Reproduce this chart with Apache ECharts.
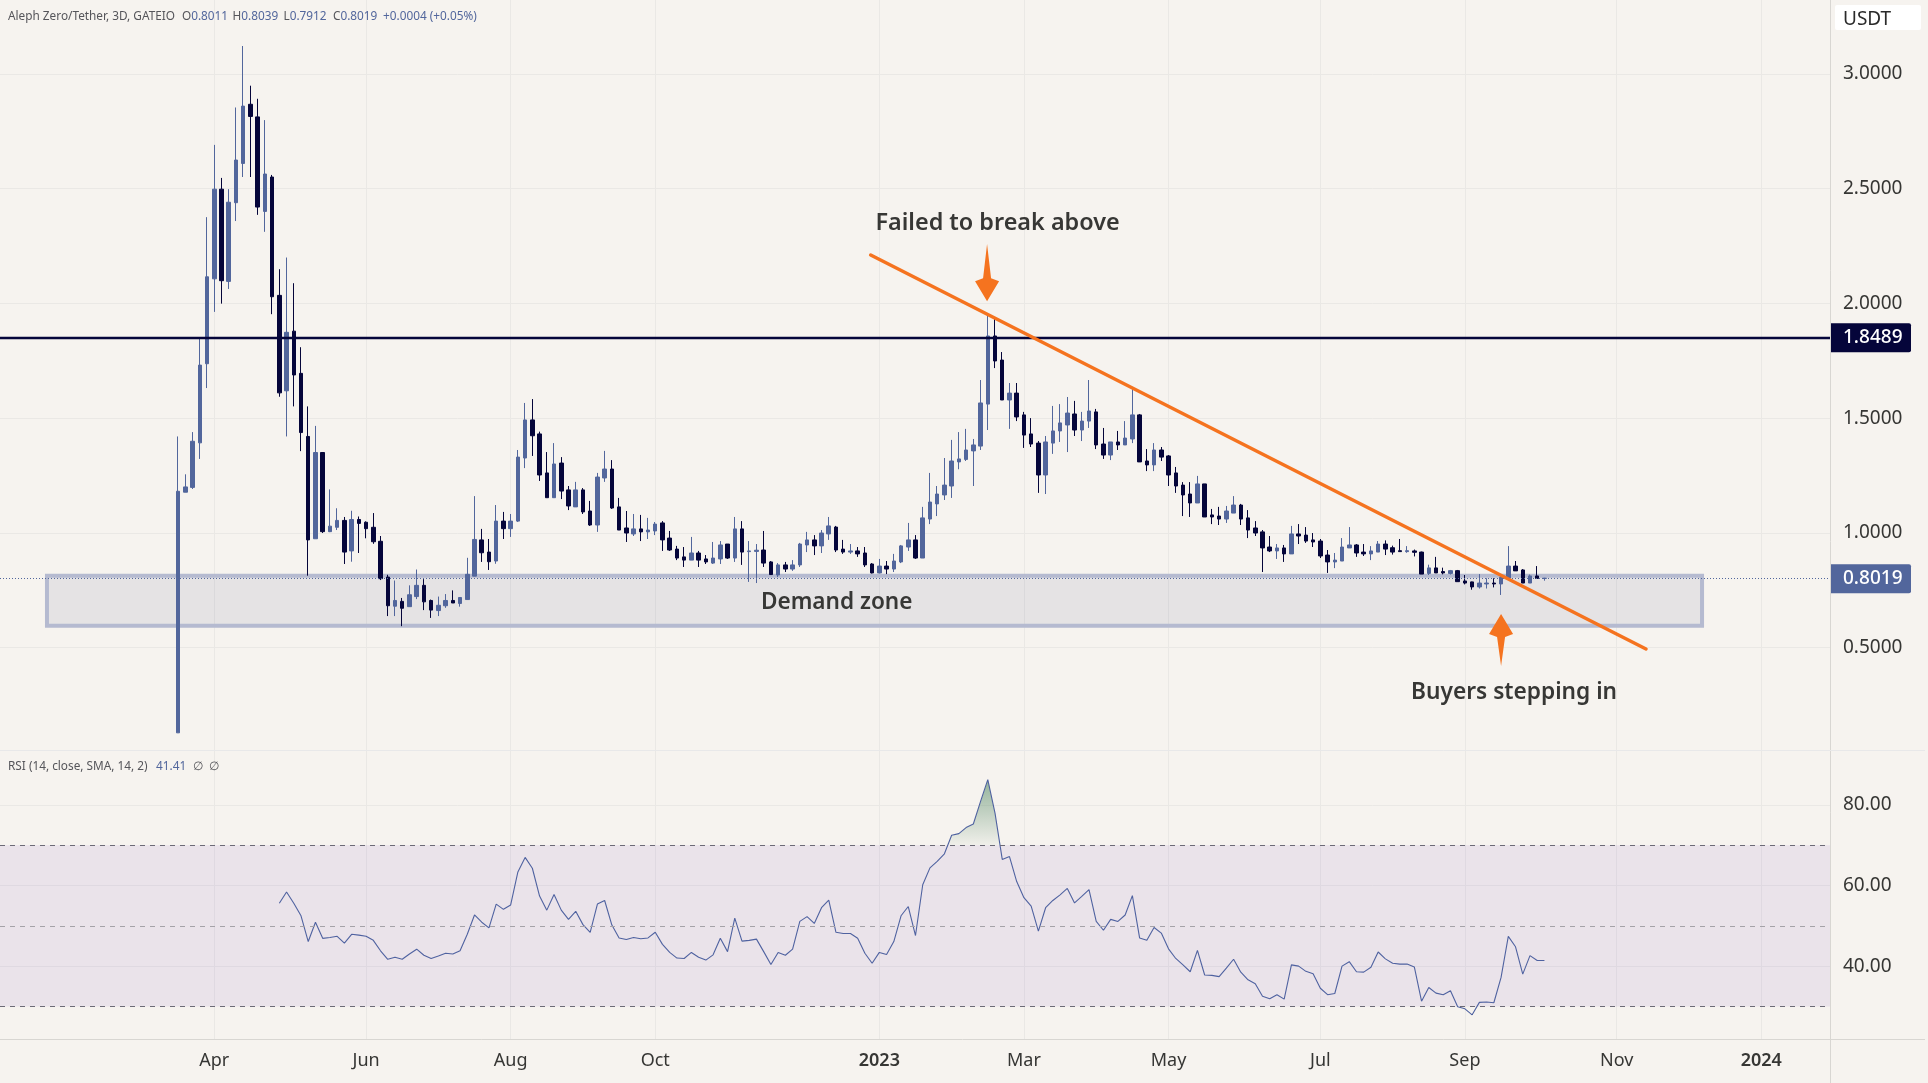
<!DOCTYPE html>
<html><head><meta charset="utf-8">
<style>html,body{margin:0;padding:0;background:#F6F3EF;overflow:hidden}#c{width:1928px;height:1083px}</style>
<script src="https://cdn.jsdelivr.net/npm/echarts@6/dist/echarts.min.js"></script>
</head><body><div id="c"></div>
<script>
const opens = [
0.128,1.177,1.198,1.392,1.737,2.107,2.498,2.096,2.439,2.610,
2.868,2.813,2.401,2.551,2.035,1.619,1.879,1.695,1.420,0.974,
1.350,1.005,1.024,1.054,0.921,1.058,1.046,1.024,0.963,0.807,
0.680,0.701,0.678,0.722,0.771,0.705,0.661,0.682,0.705,0.692,
0.709,0.811,0.969,0.916,0.877,1.051,1.018,1.051,1.326,1.492,
1.431,1.261,1.153,1.304,1.187,1.113,1.187,1.095,1.034,1.239,
1.278,1.113,1.021,0.995,1.017,1.004,1.008,1.043,0.977,0.929,
0.895,0.881,0.912,0.886,0.868,0.886,0.951,0.890,1.017,0.918,
0.919,0.925,0.873,0.816,0.860,0.842,0.860,0.947,0.969,0.943,
0.995,1.025,0.929,0.916,0.921,0.912,0.864,0.825,0.855,0.842,
0.873,0.938,0.969,0.890,1.060,1.126,1.165,1.204,1.309,1.320,
1.357,1.378,1.561,1.858,1.753,1.579,1.609,1.514,1.431,1.391,
1.252,1.391,1.444,1.470,1.518,1.448,1.487,1.527,1.387,1.339,
1.396,1.383,1.409,1.514,1.313,1.296,1.361,1.335,1.261,1.208,
1.169,1.130,1.213,1.078,1.073,1.060,1.086,1.121,1.065,1.021,
1.004,0.938,0.921,0.934,0.908,0.995,0.990,0.969,0.964,0.903,
0.873,0.877,0.934,0.947,0.916,0.908,0.916,0.951,0.935,0.922,
0.918,0.921,0.916,0.823,0.847,0.831,0.823,0.835,0.790,0.786,
0.764,0.777,0.781,0.777,0.803,0.855,0.838,0.781,0.812,0.8011];
const closes = [
1.181,1.200,1.399,1.731,2.116,2.498,2.099,2.441,2.625,2.860,
2.815,2.420,2.564,2.029,1.610,1.874,1.688,1.437,0.969,1.350,
1.005,1.029,1.054,0.916,1.058,1.041,1.018,0.961,0.800,0.682,
0.705,0.671,0.730,0.771,0.699,0.663,0.684,0.705,0.694,0.718,
0.819,0.971,0.913,0.874,1.051,1.018,1.051,1.330,1.492,1.423,
1.252,1.153,1.300,1.182,1.117,1.187,1.091,1.034,1.243,1.278,
1.108,1.012,0.999,1.017,1.004,1.012,1.038,0.969,0.925,0.890,
0.881,0.912,0.881,0.873,0.890,0.947,0.890,1.017,0.916,0.921,
0.924,0.868,0.818,0.860,0.842,0.860,0.951,0.969,0.943,0.999,
1.030,0.925,0.916,0.921,0.908,0.860,0.825,0.855,0.842,0.877,
0.943,0.969,0.890,1.065,1.134,1.169,1.208,1.313,1.322,1.361,
1.383,1.566,1.858,1.749,1.579,1.609,1.505,1.426,1.387,1.252,
1.396,1.444,1.479,1.522,1.448,1.487,1.531,1.383,1.339,1.396,
1.383,1.413,1.514,1.309,1.296,1.361,1.330,1.252,1.204,1.165,
1.130,1.213,1.069,1.069,1.060,1.095,1.121,1.060,1.012,0.999,
0.934,0.921,0.934,0.908,0.995,0.986,0.964,0.960,0.899,0.873,
0.881,0.938,0.947,0.912,0.908,0.921,0.951,0.929,0.916,0.918,
0.922,0.915,0.820,0.847,0.825,0.825,0.835,0.787,0.781,0.764,
0.781,0.781,0.777,0.806,0.855,0.834,0.781,0.812,0.801,0.8019];
const lows = [
0.128,1.177,1.191,1.322,1.631,1.963,1.999,2.063,2.359,2.551,
2.551,2.386,2.312,1.953,1.593,1.420,1.551,1.356,0.813,0.974,
0.999,1.003,1.012,0.864,0.874,0.912,0.976,0.952,0.794,0.637,
0.637,0.593,0.678,0.711,0.663,0.629,0.637,0.673,0.694,0.678,
0.709,0.811,0.873,0.838,0.865,0.973,0.982,1.047,1.282,1.335,
1.226,1.153,1.153,1.147,1.099,1.113,1.082,1.030,1.004,1.222,
1.104,1.012,0.960,0.986,0.964,0.973,0.990,0.921,0.921,0.881,
0.851,0.881,0.851,0.864,0.864,0.864,0.886,0.873,0.860,0.786,
0.781,0.851,0.816,0.807,0.829,0.834,0.851,0.916,0.903,0.912,
0.969,0.916,0.908,0.908,0.895,0.851,0.823,0.823,0.820,0.829,
0.868,0.921,0.886,0.890,1.038,1.073,1.143,1.152,1.277,1.313,
1.204,1.361,1.448,1.718,1.579,1.453,1.487,1.370,1.374,1.174,
1.169,1.344,1.396,1.352,1.422,1.400,1.457,1.365,1.322,1.317,
1.361,1.383,1.391,1.309,1.269,1.269,1.313,1.204,1.174,1.073,
1.069,1.130,1.069,1.038,1.034,1.043,1.086,1.034,0.977,0.986,
0.829,0.916,0.886,0.873,0.908,0.951,0.956,0.938,0.890,0.825,
0.846,0.877,0.934,0.895,0.899,0.881,0.916,0.903,0.905,0.918,
0.913,0.897,0.820,0.816,0.825,0.819,0.818,0.787,0.775,0.752,
0.757,0.757,0.762,0.729,0.803,0.834,0.781,0.781,0.799,0.7912];
const highs = [
1.420,1.255,1.439,1.851,2.376,2.691,2.547,2.498,2.854,3.122,
2.949,2.892,2.799,2.560,2.149,2.200,2.088,1.809,1.551,1.466,
1.350,1.189,1.107,1.069,1.096,1.071,1.050,1.086,0.986,0.817,
0.792,0.716,0.771,0.840,0.798,0.709,0.722,0.733,0.749,0.718,
0.891,1.160,1.017,0.973,1.121,1.091,1.082,1.361,1.566,1.583,
1.441,1.352,1.391,1.330,1.204,1.222,1.195,1.139,1.261,1.357,
1.317,1.152,1.095,1.082,1.078,1.065,1.047,1.051,1.008,0.943,
0.938,0.982,0.921,0.903,0.960,0.964,0.951,1.069,1.051,0.964,
0.951,1.008,0.877,0.868,0.873,0.881,0.956,1.004,0.990,1.012,
1.069,1.030,0.969,0.951,0.938,0.938,0.868,0.886,0.877,0.908,
0.947,1.043,0.990,1.113,1.261,1.204,1.326,1.405,1.439,1.453,
1.409,1.666,1.954,1.936,1.788,1.653,1.653,1.527,1.500,1.400,
1.422,1.553,1.561,1.592,1.575,1.527,1.666,1.540,1.457,1.396,
1.444,1.487,1.636,1.518,1.365,1.391,1.374,1.339,1.287,1.221,
1.221,1.248,1.213,1.104,1.113,1.117,1.160,1.126,1.099,1.051,
1.012,0.986,0.951,0.947,1.030,1.038,1.025,0.999,0.973,0.925,
0.912,0.977,1.025,0.951,0.951,0.942,0.964,0.967,0.944,0.973,
0.942,0.927,0.918,0.861,0.895,0.848,0.838,0.838,0.816,0.787,
0.820,0.802,0.802,0.816,0.942,0.877,0.842,0.818,0.855,0.8039];
const rsiFirstBar = 14;
const rsiValues = [
55.6,58.4,55.6,52.5,46.1,50.9,46.9,47.1,47.4,45.7,
47.9,47.7,47.4,46.4,43.8,41.7,42.2,41.7,43.0,44.2,
42.7,41.9,42.5,43.2,43.0,43.8,47.9,52.7,50.9,49.5,
55.4,54.1,55.2,63.4,67.0,64.3,57.4,53.9,57.8,53.9,
51.6,53.6,50.3,48.4,55.4,56.3,50.2,47.0,46.6,47.1,
46.8,47.0,48.4,45.4,43.4,42.0,41.9,43.4,42.2,41.5,
42.8,46.9,43.6,51.9,46.2,46.4,46.7,43.6,40.4,43.4,
42.7,44.2,51.1,52.3,50.6,54.5,56.4,48.4,48.1,48.1,
46.9,43.2,40.7,43.4,42.9,46.1,52.5,54.8,47.6,60.2,
64.4,66.0,67.9,72.5,72.9,74.4,75.3,80.9,86.3,78.0,
66.5,67.2,61.0,57.0,54.9,48.7,54.5,56.3,57.7,59.3,
55.7,57.3,59.0,51.1,48.9,51.6,51.1,52.7,57.5,47.0,
46.4,49.6,48.2,44.3,41.9,40.3,38.6,43.9,37.8,37.7,
37.4,39.5,41.7,38.5,36.6,35.6,32.5,31.9,32.9,31.8,
40.3,40.0,38.7,38.1,34.5,32.9,33.2,40.0,41.1,38.6,
38.5,39.7,43.5,41.8,40.7,40.5,40.5,39.8,31.3,34.7,
33.3,32.9,33.9,29.9,29.4,27.9,31.0,31.1,30.9,37.2,
47.4,44.8,38.0,42.6,41.4,41.41];
const tickDates  = ['2022-04-01','2022-06-03','2022-08-02','2022-10-01','2023-01-02','2023-03-03','2023-05-02','2023-07-04','2023-09-02','2023-11-04','2024-01-03'];
const tickLabels = ['Apr','Jun','Aug','Oct','2023','Mar','May','Jul','Sep','Nov','2024'];
const priceTicks = [0.5,1,1.5,2,2.5,3];
const rsiTicks = [40,60,80];
const keyLevel = 1.8489;
const lastPrice = 0.8019;
const firstBarDate = '2022-03-17';
// annotations, in bar numbers and prices
const trendLine = [[95.8,2.211],[203.05,0.4935]];
const demandZone = {fromBar:-18.14,toBar:210.8,top:0.8126,bottom:0.5946};
const arrows = [{bar:111.9,tail:2.259,tip:2.009},{bar:183,tail:0.419,tip:0.646}];
const notes = [
  {text:'Failed to break above',bar:113.35,price:2.348,size:23.4},
  {text:'Buyers stepping in',bar:184.8,price:0.303,size:22.7},
  {text:'Demand zone',bar:91.1,price:0.696,size:22.6}];

const FONT='"Noto Sans"', BG='#F6F3EF', UP='#52669C', DOWN='#05053A', ORANGE='#F5731F', GRID='#EAE8E5', BORDER='#D8D6D2', TXT='#363634';
const DAY=86400000, T0=Date.parse(firstBarDate+'T00:00:00Z');
const barTime=b=>T0+b*3*DAY;
const tickTimes=tickDates.map(d=>Date.parse(d+'T00:00:00Z'));
const candles=opens.map((o,i)=>[barTime(i),o,closes[i],lows[i],highs[i]]);
const rsiData=rsiValues.map((v,i)=>[barTime(i+rsiFirstBar),v]);
const xMin=barTime(-24.638), xMax=barTime(228.5);
const L=0,W=1830;

function xAxisFor(gridIndex,labels){
  return {type:'value',gridIndex,min:xMin,max:xMax,scale:true,
    axisLine:{show:false},
    axisTick:{show:false,customValues:tickTimes},
    splitLine:{show:true,lineStyle:{color:GRID,width:1}},
    axisLabel:labels?{show:true,customValues:tickTimes,margin:13,fontFamily:FONT,fontSize:18,color:TXT,hideOverlap:false,
      formatter:v=>{const s=tickLabels[tickTimes.indexOf(v)]||'';return /^\d/.test(s)?'{y|'+s+'}':s;},
      rich:{y:{fontFamily:FONT,fontSize:18,fontWeight:600,color:TXT}}}:{show:false}};
}
const legendRich={n:{fontFamily:FONT,fontSize:11.8,fontWeight:'normal',color:'#55555A'},v:{fontFamily:FONT,fontSize:11.8,fontWeight:'normal',color:'#52669C'}};
const legendItem=(text,left,top)=>({text,left,top,padding:0,textStyle:{fontWeight:'normal',rich:legendRich}});
const chart=echarts.init(document.getElementById('c'),null,{renderer:'canvas'});
chart.setOption({
  animation:false,backgroundColor:BG,
  title:[
    legendItem('{n|Aleph Zero/Tether, 3D, GATEIO}',8,11),
    legendItem('{n|O}{v|0.8011}',182,11),
    legendItem('{n|H}{v|0.8039}',232.5,11),
    legendItem('{n|L}{v|0.7912}',283.5,11),
    legendItem('{n|C}{v|0.8019}',333,11),
    legendItem('{v|+0.0004 (+0.05%)}',383,11),
    legendItem('{n|RSI (14, close, SMA, 14, 2)}',8,761),
    legendItem('{v|41.41}',156,761),
    legendItem('{n|∅}',193,761),
    legendItem('{n|∅}',209,761)
  ],
  grid:[
    {left:L,top:0,width:W,height:750},
    {left:L,top:751,width:W,height:288},
    {left:L,top:751,width:W,height:94.3}
  ],
  xAxis:[xAxisFor(0,false),xAxisFor(1,true),{type:'value',gridIndex:2,min:xMin,max:xMax,scale:true,show:false}],
  yAxis:[
    {type:'value',gridIndex:0,position:'right',min:0.05318,max:3.32258,scale:true,
     axisLine:{show:false},axisTick:{show:false,customValues:priceTicks},
     splitLine:{show:true,lineStyle:{color:GRID,width:1}},
     axisLabel:{customValues:priceTicks,margin:13,align:'left',padding:[4,0,0,0],fontFamily:FONT,fontSize:19,color:TXT,formatter:v=>v.toFixed(4)}},
    {type:'value',gridIndex:1,position:'right',min:21.9,max:93.42,scale:true,
     axisLine:{show:false},axisTick:{show:false,customValues:rsiTicks},
     splitLine:{show:true,lineStyle:{color:GRID,width:1}},
     axisLabel:{customValues:rsiTicks,margin:13,align:'left',padding:[5,0,0,0],fontFamily:FONT,fontSize:19,color:TXT,formatter:v=>v.toFixed(2)}},
    {type:'value',gridIndex:2,min:70,max:93.42,show:false,scale:true}
  ],
  series:[
    {type:'custom',name:'Demand zone',xAxisIndex:0,yAxisIndex:0,z:1,clip:false,silent:true,coordinateSystem:'cartesian2d',
     data:[[barTime(demandZone.fromBar),demandZone.top,barTime(demandZone.toBar),demandZone.bottom]],
     encode:{x:[0,2],y:[1,3]},
     renderItem:(p,api)=>{
       const a=api.coord([api.value(0),api.value(1)]),b=api.coord([api.value(2),api.value(3)]);
       return {type:'rect',shape:{x:a[0],y:a[1],width:b[0]-a[0],height:b[1]-a[1]},
         style:{fill:'rgba(91,97,148,0.11)',stroke:'#B5BAD0',lineWidth:4}};
     }},
    {type:'candlestick',name:'AZERO/USDT',xAxisIndex:0,yAxisIndex:0,z:2,barWidth:4,clip:false,
     data:candles,encode:{x:0,y:[1,2,3,4]},
     itemStyle:{color:UP,color0:DOWN,borderColor:UP,borderColor0:DOWN,borderWidth:1},
     markLine:{silent:true,symbol:'none',animation:false,z:3,
       data:[
         {yAxis:keyLevel,lineStyle:{color:DOWN,width:2.4,type:'solid'},
          label:{show:true,position:'end',distance:0,formatter:()=>keyLevel.toFixed(4),color:'#fff',backgroundColor:DOWN,
            fontFamily:FONT,fontSize:19,fontWeight:500,width:68,height:26,lineHeight:26,align:'left',padding:[3,0,0,13],borderRadius:[0,2,2,0]}},
         {yAxis:lastPrice,lineStyle:{color:UP,width:1,type:[1,2]},
          label:{show:true,position:'end',distance:0,formatter:()=>lastPrice.toFixed(4),color:'#fff',backgroundColor:UP,
            fontFamily:FONT,fontSize:19,fontWeight:500,width:68,height:26,lineHeight:26,align:'left',padding:[3,0,0,13],borderRadius:[0,2,2,0]}}
       ]}},
    {type:'line',name:'Trend line',xAxisIndex:0,yAxisIndex:0,z:4,symbol:'none',silent:true,clip:false,
     data:trendLine.map(d=>[barTime(d[0]),d[1]]),lineStyle:{color:ORANGE,width:3.5,cap:'round'}},
    {type:'custom',name:'Arrows',xAxisIndex:0,yAxisIndex:0,z:5,clip:false,silent:true,
     data:arrows.map(a=>[barTime(a.bar),a.tail,a.tip]),encode:{x:0,y:[1,2]},
     renderItem:(p,api)=>{
       const t=api.coord([api.value(0),api.value(1)]),h=api.coord([api.value(0),api.value(2)]);
       const x=t[0],s=h[1]>t[1]?1:-1,ty=h[1];
       return {type:'polygon',shape:{points:[[x,t[1]],[x+4,ty-s*23],[x+12,ty-s*20],[x,ty],[x-12,ty-s*20],[x-4,ty-s*23]]},style:{fill:ORANGE}};
     }},
    {type:'custom',name:'Notes',xAxisIndex:0,yAxisIndex:0,z:6,clip:false,silent:true,
     data:notes.map(n=>[barTime(n.bar),n.price,n.text,n.size]),
     encode:{x:0,y:1},dimensions:['x','y',{name:'t',type:'ordinal'},'s'],
     renderItem:(p,api)=>{
       const c=api.coord([api.value(0),api.value(1)]);
       return {type:'text',x:c[0],y:c[1],style:{text:api.value(2),align:'center',verticalAlign:'middle',
         font:'600 '+api.value(3)+'px '+FONT,fill:'#373735'}};
     }},
    {type:'line',name:'RSI',xAxisIndex:1,yAxisIndex:1,z:3,symbol:'none',silent:true,data:rsiData,
     lineStyle:{color:'#4F62A0',width:1.1},
     markArea:{silent:true,z:1,itemStyle:{color:'rgba(126,87,194,0.1)'},data:[[{yAxis:70},{yAxis:30}]]},
     markLine:{silent:true,symbol:'none',label:{show:false},data:[
       {yAxis:70,lineStyle:{color:'#6C6A76',width:1,type:[5,5]}},
       {yAxis:50,lineStyle:{color:'#A5A2A8',width:1,type:[5,5]}},
       {yAxis:30,lineStyle:{color:'#6C6A76',width:1,type:[5,5]}}]}},
    {type:'line',name:'RSI overbought',xAxisIndex:2,yAxisIndex:2,z:2,symbol:'none',silent:true,clip:true,data:rsiData,
     lineStyle:{width:0},
     areaStyle:{origin:'start',opacity:1,color:{type:'linear',global:true,x:0,y:780,x2:0,y2:846,
       colorStops:[{offset:0,color:'rgba(88,140,104,0.62)'},{offset:1,color:'rgba(88,140,104,0.03)'}]}}}
  ],
  graphic:[
    {type:'line',silent:true,z:50,shape:{x1:1830.5,y1:0,x2:1830.5,y2:1083},style:{stroke:BORDER,lineWidth:1}},
    {type:'line',silent:true,z:50,shape:{x1:0,y1:750.5,x2:1925,y2:750.5},style:{stroke:'#E8E8E9',lineWidth:1}},
    {type:'line',silent:true,z:50,shape:{x1:0,y1:1039.5,x2:1925,y2:1039.5},style:{stroke:BORDER,lineWidth:1}},
    {type:'rect',silent:true,z:51,shape:{x:1835,y:5,width:86,height:25,r:2},style:{fill:'#fff'}},
    {type:'text',silent:true,z:52,x:1843,y:19.5,style:{text:'USDT',font:'19px '+FONT,fill:'#2A2A2A',verticalAlign:'middle'}}
  ]
});
</script></body></html>
